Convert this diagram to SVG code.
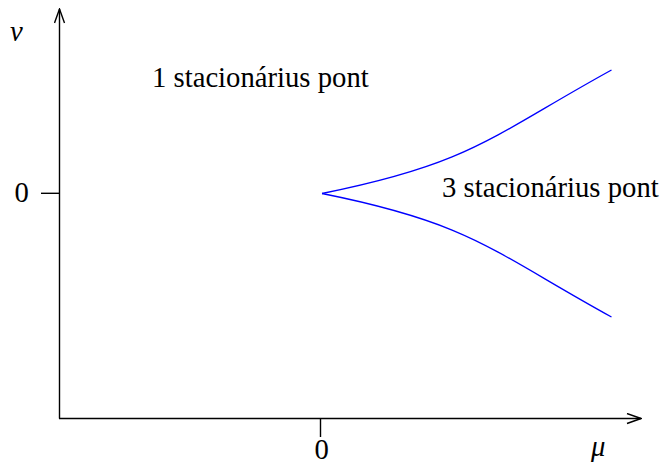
<svg xmlns="http://www.w3.org/2000/svg" width="664" height="464" viewBox="0 0 664 464">
<style>
.ax{stroke:#000;stroke-width:1.4;fill:none}
.cv{stroke:#0000ff;stroke-width:1.3;fill:none}
text{font-family:"Liberation Serif","Times New Roman",serif;font-size:28.7px;fill:#000}
.it{font-style:italic}
</style>
<defs>
<marker id="arr" viewBox="0 0 16 12" refX="15" refY="6" markerWidth="16" markerHeight="12" markerUnits="userSpaceOnUse" orient="auto">
<path d="M1,1 L15,6 L1,11" fill="none" stroke="#000" stroke-width="1.4"/>
</marker>
</defs>
<g id="axes">
<line id="yaxis" class="ax" x1="59.5" y1="418.5" x2="59.5" y2="9" marker-end="url(#arr)"/>
<line id="xaxis" class="ax" x1="59" y1="418.5" x2="641" y2="418.5" marker-end="url(#arr)"/>
<line class="ax" x1="41" y1="193.3" x2="59.5" y2="193.3"/>
<line class="ax" x1="320.5" y1="418.5" x2="320.5" y2="437"/>
</g>
<g id="labels">
<text class="it" x="10" y="41">ν</text>
<text class="it" x="591" y="456">μ</text>
<text x="14.5" y="202">0</text>
<text x="314.5" y="459">0</text>
</g>
<g id="region1"><text x="152" y="87">1 stacionárius pont</text></g>
<g id="region3"><text x="442" y="197">3 stacionárius pont</text></g>
<g id="connectors">
<path class="cv" d="M322,193.5 C472,163.5 491.5,136 611.5,70"/>
<path class="cv" d="M322,193.5 C472,223.5 491.5,251 611.5,317"/>
</g>
</svg>
